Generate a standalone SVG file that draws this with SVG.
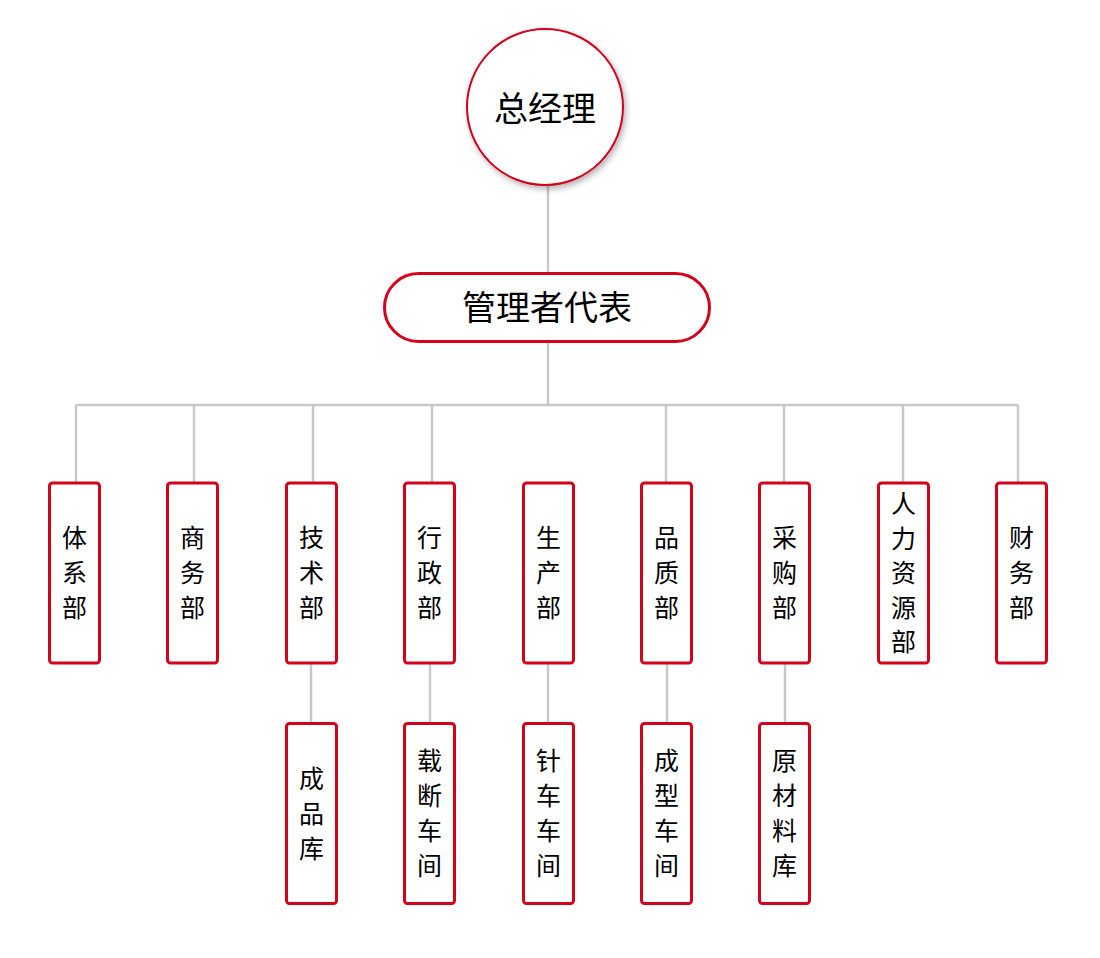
<svg xmlns="http://www.w3.org/2000/svg" width="1100" height="958" viewBox="0 0 1100 958">
<style>
.box{fill:#fff;stroke:#d3031c;stroke-width:3}
.ln{stroke:#c8c8c8;stroke-width:2.5;fill:none}
.t{font-family:"Noto Sans CJK SC","Noto Sans",sans-serif;fill:#000;text-anchor:middle;dominant-baseline:central}
.s{font-size:25px}
.b{font-size:34px}
</style>
<defs>
<filter id="sh" x="-20%" y="-20%" width="140%" height="140%">
<feDropShadow dx="2" dy="3" stdDeviation="3" flood-color="#000" flood-opacity="0.3"/>
</filter>
</defs>
<rect width="1100" height="958" fill="#fff"/>
<g id="connectors">
<path class="ln" d="M548 185V273M548 342V405M76 405H1018M76 405V483M194 405V483M313 405V483M432 405V483M666 405V483M784 405V483M903 405V483M1018 405V483"/>
<path class="ln" d="M311 663V723M430 663V723M548 663V723M667 663V723M785 663V723"/>
</g>
<g id="n-gm">
<circle cx="545" cy="107" r="78" fill="#fff" stroke="#d3031c" stroke-width="2" filter="url(#sh)"/>
<text class="t b" x="545" y="106">总经理</text>
</g>
<g id="n-rep">
<rect class="box" x="384.5" y="273.5" width="325" height="68" rx="34"/>
<text class="t b" x="547" y="305">管理者代表</text>
</g>
<g id="n1"><rect class="box" x="49.5" y="483" width="50" height="180" rx="3"/>
<text class="t s"><tspan x="74.5" y="536">体</tspan><tspan x="74.5" y="571">系</tspan><tspan x="74.5" y="606">部</tspan></text></g>
<g id="n2"><rect class="box" x="167.5" y="483" width="50" height="180" rx="3"/>
<text class="t s"><tspan x="192.5" y="536">商</tspan><tspan x="192.5" y="571">务</tspan><tspan x="192.5" y="606">部</tspan></text></g>
<g id="n3"><rect class="box" x="286.5" y="483" width="50" height="180" rx="3"/>
<text class="t s"><tspan x="311.5" y="536">技</tspan><tspan x="311.5" y="571">术</tspan><tspan x="311.5" y="606">部</tspan></text></g>
<g id="n4"><rect class="box" x="404.5" y="483" width="50" height="180" rx="3"/>
<text class="t s"><tspan x="429.5" y="536">行</tspan><tspan x="429.5" y="571">政</tspan><tspan x="429.5" y="606">部</tspan></text></g>
<g id="n5"><rect class="box" x="523.5" y="483" width="50" height="180" rx="3"/>
<text class="t s"><tspan x="548.5" y="536">生</tspan><tspan x="548.5" y="571">产</tspan><tspan x="548.5" y="606">部</tspan></text></g>
<g id="n6"><rect class="box" x="641.5" y="483" width="50" height="180" rx="3"/>
<text class="t s"><tspan x="666.5" y="536">品</tspan><tspan x="666.5" y="571">质</tspan><tspan x="666.5" y="606">部</tspan></text></g>
<g id="n7"><rect class="box" x="759.5" y="483" width="50" height="180" rx="3"/>
<text class="t s"><tspan x="784.5" y="536">采</tspan><tspan x="784.5" y="571">购</tspan><tspan x="784.5" y="606">部</tspan></text></g>
<g id="n8"><rect class="box" x="878.5" y="483" width="50" height="180" rx="3"/>
<text class="t s"><tspan x="903.5" y="502">人</tspan><tspan x="903.5" y="536.5">力</tspan><tspan x="903.5" y="571">资</tspan><tspan x="903.5" y="605.5">源</tspan><tspan x="903.5" y="640">部</tspan></text></g>
<g id="n9"><rect class="box" x="996.5" y="483" width="50" height="180" rx="3"/>
<text class="t s"><tspan x="1021.5" y="536">财</tspan><tspan x="1021.5" y="571">务</tspan><tspan x="1021.5" y="606">部</tspan></text></g>
<g id="m1"><rect class="box" x="286.5" y="723.5" width="50" height="180" rx="3"/>
<text class="t s"><tspan x="311.5" y="777">成</tspan><tspan x="311.5" y="812">品</tspan><tspan x="311.5" y="847">库</tspan></text></g>
<g id="m2"><rect class="box" x="404.5" y="723.5" width="50" height="180" rx="3"/>
<text class="t s"><tspan x="429.5" y="759">载</tspan><tspan x="429.5" y="794">断</tspan><tspan x="429.5" y="829">车</tspan><tspan x="429.5" y="864">间</tspan></text></g>
<g id="m3"><rect class="box" x="523.5" y="723.5" width="50" height="180" rx="3"/>
<text class="t s"><tspan x="548.5" y="759">针</tspan><tspan x="548.5" y="794">车</tspan><tspan x="548.5" y="829">车</tspan><tspan x="548.5" y="864">间</tspan></text></g>
<g id="m4"><rect class="box" x="641.5" y="723.5" width="50" height="180" rx="3"/>
<text class="t s"><tspan x="666.5" y="759">成</tspan><tspan x="666.5" y="794">型</tspan><tspan x="666.5" y="829">车</tspan><tspan x="666.5" y="864">间</tspan></text></g>
<g id="m5"><rect class="box" x="759.5" y="723.5" width="50" height="180" rx="3"/>
<text class="t s"><tspan x="784.5" y="759">原</tspan><tspan x="784.5" y="794">材</tspan><tspan x="784.5" y="829">料</tspan><tspan x="784.5" y="864">库</tspan></text></g>
</svg>
